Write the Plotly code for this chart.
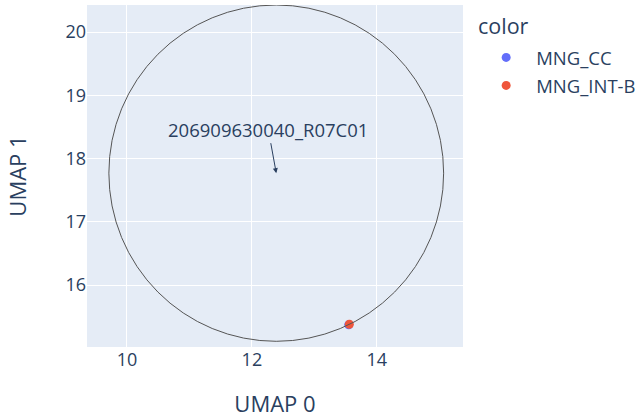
import plotly.graph_objects as go

categories = ["MNG_CC", "MNG_INT-B"]
umap0 = [13.55, 13.56]
umap1 = [15.37, 15.38]
colors = ["#636efa", "#EF553B"]

label = "206909630040_R07C01"
legend_title = "color"
center_x = 12.39
center_y = 17.77
radius_x = 2.68
radius_y = 2.66

fig = go.Figure()
for cat, x, y, c in zip(categories, umap0, umap1, colors):
    fig.add_trace(go.Scatter(x=[x], y=[y], mode="markers", name=cat,
                             legendgroup=cat,
                             marker=dict(color=c, size=9)))

fig.add_shape(type="circle", xref="x", yref="y",
              x0=center_x - radius_x, x1=center_x + radius_x,
              y0=center_y - radius_y, y1=center_y + radius_y,
              line=dict(color="#555", width=1))

fig.add_annotation(x=center_x, y=center_y, text=label, showarrow=True,
                   arrowhead=2, arrowwidth=1, arrowcolor="#2a3f5f",
                   ax=-8, ay=-44, font=dict(size=18.5))

fig.add_annotation(xref="paper", yref="paper", x=1.034, y=0.9415,
                   xanchor="left", yanchor="middle", showarrow=False,
                   text=legend_title, font=dict(size=21.5))

fig.update_layout(
    width=638, height=419,
    template="plotly",
    font=dict(size=18, family="Open Sans"),
    margin=dict(l=87, r=175, t=5, b=72, autoexpand=False),
    legend=dict(itemwidth=50, font=dict(size=18.5),
                x=1.035, y=0.901, yanchor="top", tracegroupgap=1),
    xaxis=dict(title=dict(text="UMAP 0", standoff=26), range=[9.36, 15.38], dtick=2),
    yaxis=dict(title=dict(text="UMAP 1", standoff=32), range=[15.02, 20.43], dtick=1),
)

fig.write_html("out.html", config={"displayModeBar": False},
               post_script="document.body.style.margin='0';")
